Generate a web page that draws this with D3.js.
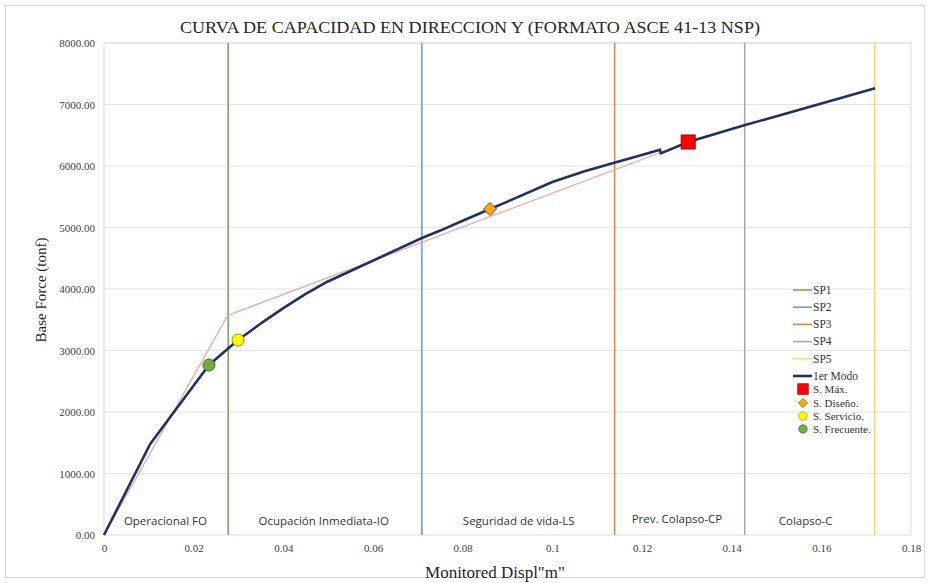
<!DOCTYPE html>
<html><head><meta charset="utf-8">
<script src="https://cdn.jsdelivr.net/npm/d3@7"></script>
<style>body{margin:0;background:#fff}svg{display:block}</style>
</head><body><svg id="c" width="930" height="583"></svg>
<script>
// ---- data ----
const curveX = [0, 0.0103, 0.0234, 0.0299, 0.035, 0.04, 0.045, 0.0497, 0.0709, 0.075, 0.08, 0.0861, 0.09, 0.1, 0.107, 0.114, 0.118, 0.124, 0.1242, 0.1303, 0.143, 0.172];
const curveY = [0, 1480, 2764, 3170, 3440, 3690, 3920, 4114, 4829, 4950, 5110, 5300, 5420, 5740, 5910, 6055, 6140, 6265, 6205, 6390, 6665, 7265];
const bilinX = [0, 0.0276, 0.1303];
const bilinY = [0, 3570, 6390];
const spNames = ["SP1", "SP2", "SP3", "SP4", "SP5"];
const spX = [0.0277, 0.0709, 0.1139, 0.1429, 0.1719];
const spColors = ["#6aa84f", "#5b9bd5", "#ed7d31", "#a5a5a5", "#ffd966"];
const zoneNames = ["Operacional FO", "Ocupación Inmediata-IO", "Seguridad de vida-LS", "Prev. Colapso-CP", "Colapso-C"];
const zoneX = [0.0137, 0.049, 0.0925, 0.1278, 0.1565];
const ptNames = ["S. Máx.", "S. Diseño.", "S. Servicio.", "S. Frecuente."];
const ptX = [0.1303, 0.0861, 0.0299, 0.0234];
const ptY = [6390, 5300, 3170, 2764];
const xTicks = [0, 0.02, 0.04, 0.06, 0.08, 0.1, 0.12, 0.14, 0.16, 0.18];
const xTickLabels = ["0", "0.02", "0.04", "0.06", "0.08", "0.1", "0.12", "0.14", "0.16", "0.18"];
const yTicks = [0, 1000, 2000, 3000, 4000, 5000, 6000, 7000, 8000];

const svg = d3.select("#c");
const L = 104, R = 911, T = 43, B = 535;
const x = d3.scaleLinear().domain([0, 0.18]).range([L, R]);
const y = d3.scaleLinear().domain([0, 8000]).range([B, T]);
const serif = "'Liberation Serif','Times New Roman',serif";

svg.append("rect").attr("x", 5.5).attr("y", 5.5).attr("width", 919).attr("height", 572)
  .attr("fill", "#fff").attr("stroke", "#d9d9d9");

// grid
svg.append("g").selectAll("line").data(yTicks.slice(1)).join("line")
  .attr("x1", L).attr("x2", R).attr("y1", d => y(d)).attr("y2", d => y(d))
  .attr("stroke", "#e3e3e3").attr("stroke-width", 1);
svg.append("rect").attr("x", L).attr("y", T).attr("width", R - L).attr("height", B - T)
  .attr("fill", "none").attr("stroke", "#dcdcdc");

// axes
const ya = svg.append("g").attr("transform", `translate(${L},0)`)
  .call(d3.axisLeft(y).tickValues(yTicks).tickFormat(d3.format(".2f")).tickSize(0).tickPadding(9));
ya.select(".domain").remove();
ya.selectAll("text").attr("font-family", serif).attr("font-size", 11).attr("fill", "#404040");
const xa = svg.append("g").attr("transform", `translate(0,${B})`)
  .call(d3.axisBottom(x).tickValues(xTicks).tickFormat((d, i) => xTickLabels[i]).tickSize(0).tickPadding(9));
xa.select(".domain").remove();
xa.selectAll("text").attr("font-family", serif).attr("font-size", 11).attr("fill", "#404040");

// SP lines
svg.append("g").selectAll("line").data(spX).join("line")
  .attr("x1", d => x(d)).attr("x2", d => x(d)).attr("y1", T).attr("y2", B)
  .attr("stroke", (d, i) => spColors[i]).attr("stroke-width", 1.5);

// zone labels
svg.append("g").selectAll("text").data(zoneNames).join("text")
  .attr("x", (d, i) => x(zoneX[i])).attr("y", (d, i) => i === 3 ? 523 : 525)
  .attr("text-anchor", "middle").attr("font-family", "'Open Sans',sans-serif").attr("font-size", 11.5)
  .attr("fill", "#333").text(d => d);

// bilinear
const line = d3.line().x(d => x(d[0])).y(d => y(d[1]));
svg.append("path").datum(bilinX.map((v, i) => [v, bilinY[i]])).attr("d", line)
  .attr("fill", "none").attr("stroke", "#f4a3a3").attr("stroke-width", 1.3);
// curve
svg.append("path").datum(curveX.map((v, i) => [v, curveY[i]])).attr("d", line)
  .attr("fill", "none").attr("stroke", "#1f3160").attr("stroke-width", 2.6).attr("stroke-linejoin", "round");

// markers
function marker(g, i, cx, cy) {
  if (i === 0) g.append("rect").attr("x", cx - 7).attr("y", cy - 7).attr("width", 14).attr("height", 14).attr("fill", "#ff0000").attr("stroke", "#a00000");
  if (i === 1) g.append("path").attr("d", d3.symbol(d3.symbolDiamond2, 110)()).attr("transform", `translate(${cx},${cy})`).attr("fill", "#f5a623").attr("stroke", "#7a5000");
  if (i === 2) g.append("circle").attr("cx", cx).attr("cy", cy).attr("r", 6).attr("fill", "#ffff00").attr("stroke", "#a09000");
  if (i === 3) g.append("circle").attr("cx", cx).attr("cy", cy).attr("r", 6).attr("fill", "#70ad47").attr("stroke", "#3c6e22");
}
const mg = svg.append("g");
ptX.forEach((v, i) => marker(mg, i, x(v), y(ptY[i])));

// title
svg.append("text").attr("x", 470).attr("y", 33).attr("text-anchor", "middle")
  .attr("font-family", serif).attr("font-size", 17.5).attr("fill", "#262626")
  .attr("textLength", 580).attr("lengthAdjust", "spacingAndGlyphs")
  .text("CURVA DE CAPACIDAD EN DIRECCION Y (FORMATO ASCE 41-13 NSP)");
// axis titles
svg.append("text").attr("x", 495).attr("y", 578).attr("text-anchor", "middle")
  .attr("font-family", serif).attr("font-size", 17).attr("fill", "#262626").text("Monitored Displ\"m\"");
svg.append("text").attr("transform", "translate(46,290) rotate(-90)").attr("text-anchor", "middle")
  .attr("font-family", serif).attr("font-size", 15).attr("fill", "#262626").text("Base Force (tonf)");

// legend
const lg = svg.append("g");
const legLines = spNames.concat(["1er Modo"]);
const legColors = spColors.concat(["#1f3160"]);
legLines.forEach((n, i) => {
  const yy = 290 + i * 17.2;
  lg.append("line").attr("x1", 793).attr("x2", 812).attr("y1", yy).attr("y2", yy)
    .attr("stroke", legColors[i]).attr("stroke-width", i === 5 ? 2.6 : 1.5);
  lg.append("text").attr("x", 813).attr("y", yy).attr("dy", "0.33em").attr("font-family", serif).attr("font-size", 11.5)
    .attr("fill", "#333").text(n);
});
ptNames.forEach((n, i) => {
  const yy = [389, 403, 416, 429][i];
  const gg = lg.append("g").attr("transform", `translate(803,${yy}) scale(${i === 0 ? 0.75 : 0.7})`);
  marker(gg, i, 0, 0);
  lg.append("text").attr("x", 813).attr("y", yy).attr("dy", "0.33em").attr("font-family", serif).attr("font-size", 11)
    .attr("fill", "#333").text(n);
});
</script></body></html>
